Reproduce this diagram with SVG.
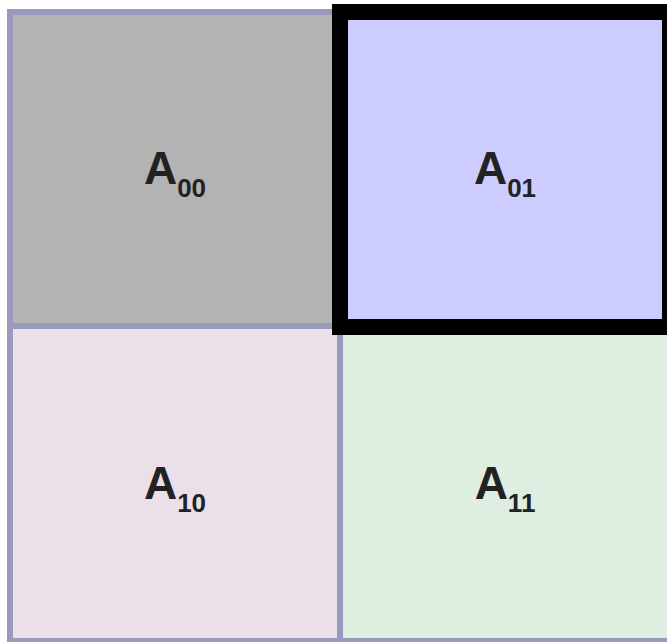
<svg xmlns="http://www.w3.org/2000/svg" width="667" height="642" viewBox="0 0 667 642">
<style>
.cell{stroke:#9a9abf;stroke-width:6}
.lbl{font-family:"Liberation Sans",Arial,sans-serif;font-weight:bold;font-size:46px;fill:#222222;text-anchor:middle}
.sub{font-size:26px}
</style>
<rect width="667" height="642" fill="#ffffff"/>
<g id="A00"><rect class="cell" x="10" y="12" width="330" height="314" fill="#b3b3b3"/><text class="lbl" x="175" y="184">A<tspan class="sub" dy="13">00</tspan></text></g>
<g id="A01"><rect class="cell" x="340" y="12" width="330" height="314" fill="#ccccff"/><text class="lbl" x="505" y="184">A<tspan class="sub" dy="13">01</tspan></text></g>
<g id="A10"><rect class="cell" x="10" y="326" width="330" height="315" fill="#ebdfea"/><text class="lbl" x="175" y="499">A<tspan class="sub" dy="13">10</tspan></text></g>
<g id="A11"><rect class="cell" x="340" y="326" width="330" height="315" fill="#deeee1"/><text class="lbl" x="505" y="499">A<tspan class="sub" dy="13">11</tspan></text></g>
<g id="highlight"><rect x="340" y="12" width="330" height="315" fill="none" stroke="#000000" stroke-width="16"/></g>
<g id="connectors"></g>
</svg>
